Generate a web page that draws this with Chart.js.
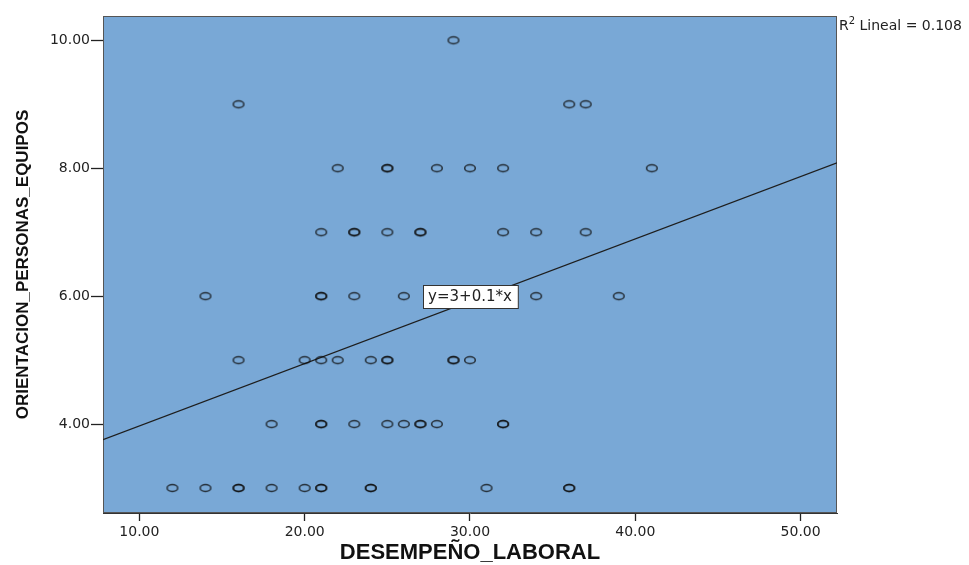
<!DOCTYPE html>
<html>
<head>
<meta charset="utf-8">
<script src="https://cdn.jsdelivr.net/npm/chart.js@4.4.1/dist/chart.umd.min.js"></script>
<style>
    html, body { margin: 0; padding: 0; background: #fff; }
    #wrap { width: 969px; height: 565px; }
</style>
</head>
<body>
<div id="wrap"><canvas id="scatterChart"></canvas></div>
<script>
const desempeno = [
    29,
    16, 36, 37,
    22, 25, 25, 28, 30, 32, 41,
    21, 23, 23, 25, 27, 27, 32, 34, 37,
    14, 21, 21, 23, 26, 34, 39,
    16, 20, 21, 22, 24, 25, 25, 29, 29, 30,
    18, 21, 21, 23, 25, 26, 27, 27, 28, 32, 32,
    12, 14, 16, 16, 18, 20, 21, 21, 24, 24, 31, 36, 36,
];
const orientacion = [
    10,
    9, 9, 9,
    8, 8, 8, 8, 8, 8, 8,
    7, 7, 7, 7, 7, 7, 7, 7, 7,
    6, 6, 6, 6, 6, 6, 6,
    5, 5, 5, 5, 5, 5, 5, 5, 5, 5,
    4, 4, 4, 4, 4, 4, 4, 4, 4, 4, 4,
    3, 3, 3, 3, 3, 3, 3, 3, 3, 3, 3, 3, 3,
];
const fitLineX = [7.8, 52.2];
const fitLineY = [3.755, 8.084];
const xTicks = [10, 20, 30, 40, 50];
const yTicks = [4, 6, 8, 10];
const equationText = 'y=3+0.1*x';
const equationAt = [30, 6];
const rSquared = '0.108';

const plotColor = '#79a8d6';
const inkColor = '#222';
const tickFont = { family: 'DejaVu Sans', size: 14 };

start();

function start() {
    const points = desempeno.map((x, i) => ({ x, y: orientacion[i] }));
    const fitLine = fitLineX.map((x, i) => ({ x, y: fitLineY[i] }));

    Chart.defaults.animation = false;
    Chart.defaults.color = inkColor;

    const ctx = document.getElementById('scatterChart').getContext('2d');
    new Chart(ctx, {
        type: 'scatter',
        data: {
            datasets: [
                {
                    data: points,
                    pointStyle: ellipseMarker(),
                    pointRadius: 6,
                    pointHoverRadius: 6,
                },
                {
                    type: 'line',
                    data: fitLine,
                    borderColor: '#1e1e1e',
                    borderWidth: 1.2,
                    pointRadius: 0,
                    fill: false,
                },
            ],
        },
        options: {
            responsive: true,
            maintainAspectRatio: false,
            layout: {
                padding: { top: 16, right: 132, left: 0, bottom: 0 },
            },
            plugins: {
                legend: { display: false },
                tooltip: { enabled: false },
            },
            scales: {
                x: {
                    type: 'linear',
                    min: 7.8,
                    max: 52.2,
                    afterFit: (scale) => { scale.height = 52; },
                    afterBuildTicks: (scale) => { scale.ticks = xTicks.map((value) => ({ value })); },
                    ticks: {
                        font: tickFont,
                        color: inkColor,
                        padding: 3,
                        maxRotation: 0,
                        callback: (value) => value.toFixed(2),
                    },
                    grid: {
                        drawOnChartArea: false,
                        drawTicks: true,
                        tickLength: 8,
                        tickColor: '#222',
                        tickWidth: 1.3,
                    },
                    border: { display: true, color: '#333', width: 1 },
                    title: {
                        display: true,
                        text: 'DESEMPEÑO_LABORAL',
                        color: '#111',
                        font: { family: 'Liberation Sans', size: 22, weight: 'bold', lineHeight: 1 },
                        padding: { top: 0, bottom: 1 },
                    },
                },
                y: {
                    type: 'linear',
                    min: 2.61,
                    max: 10.38,
                    afterFit: (scale) => { scale.width = 103; },
                    afterBuildTicks: (scale) => { scale.ticks = yTicks.map((value) => ({ value })); },
                    ticks: {
                        font: tickFont,
                        color: inkColor,
                        padding: 1,
                        callback: (value) => value.toFixed(2),
                    },
                    grid: {
                        drawOnChartArea: false,
                        drawTicks: true,
                        tickLength: 12,
                        tickColor: '#222',
                        tickWidth: 1.3,
                    },
                    border: { display: true, color: '#333', width: 1 },
                    title: {
                        display: true,
                        text: 'ORIENTACION_PERSONAS_EQUIPOS',
                        color: '#111',
                        font: { family: 'Liberation Sans', size: 17, weight: 'bold' },
                        padding: { top: 13, bottom: 0 },
                    },
                },
            },
        },
        plugins: [plotFrame(), equationLabel(), rSquaredNote()],
    });
}

function ellipseMarker() {
    const canvas = document.createElement('canvas');
    canvas.width = 16;
    canvas.height = 12;
    const c = canvas.getContext('2d');
    c.strokeStyle = 'rgba(15, 15, 15, 0.8)';
    c.lineWidth = 1.5;
    c.beginPath();
    c.ellipse(8, 6, 5.3, 3.4, 0, 0, Math.PI * 2);
    c.stroke();
    return canvas;
}

function plotFrame() {
    return {
        id: 'plotFrame',
        beforeDraw(chart) {
            const { ctx, chartArea: a } = chart;
            ctx.save();
            ctx.fillStyle = plotColor;
            ctx.fillRect(a.left, a.top, a.right - a.left, a.bottom - a.top);
            ctx.restore();
        },
        beforeDatasetsDraw(chart) {
            const { ctx, chartArea: a } = chart;
            ctx.save();
            ctx.strokeStyle = '#555';
            ctx.lineWidth = 1;
            ctx.strokeRect(a.left + 0.5, a.top + 0.5, a.right - a.left - 1, a.bottom - a.top - 1);
            ctx.restore();
        },
    };
}

function equationLabel() {
    return {
        id: 'equationLabel',
        afterDatasetsDraw(chart) {
            const { ctx, scales } = chart;
            const cx = scales.x.getPixelForValue(equationAt[0]);
            const cy = scales.y.getPixelForValue(equationAt[1]);
            ctx.save();
            ctx.font = '15px "DejaVu Sans"';
            const w = ctx.measureText(equationText).width + 11;
            const h = 23;
            const left = Math.round(cx - w / 2) + 0.5;
            const top = Math.round(cy - h / 2) + 0.5;
            ctx.fillStyle = '#fff';
            ctx.fillRect(left, top, w, h);
            ctx.strokeStyle = '#333';
            ctx.lineWidth = 1;
            ctx.strokeRect(left, top, w, h);
            ctx.fillStyle = '#222';
            ctx.textAlign = 'center';
            ctx.textBaseline = 'middle';
            ctx.fillText(equationText, cx, cy + 1);
            ctx.restore();
        },
    };
}

function rSquaredNote() {
    return {
        id: 'rSquaredNote',
        afterDraw(chart) {
            const { ctx, chartArea: a } = chart;
            let x = a.right + 2;
            const baseline = 30;
            ctx.save();
            ctx.fillStyle = '#222';
            ctx.textBaseline = 'alphabetic';
            ctx.font = '14px "DejaVu Sans"';
            ctx.fillText('R', x, baseline);
            x += ctx.measureText('R').width;
            ctx.font = '10px "DejaVu Sans"';
            ctx.fillText('2', x, baseline - 6);
            x += ctx.measureText('2').width;
            ctx.font = '14px "DejaVu Sans"';
            ctx.fillText(' Lineal = ' + rSquared, x, baseline);
            ctx.restore();
        },
    };
}
</script>
</body>
</html>
